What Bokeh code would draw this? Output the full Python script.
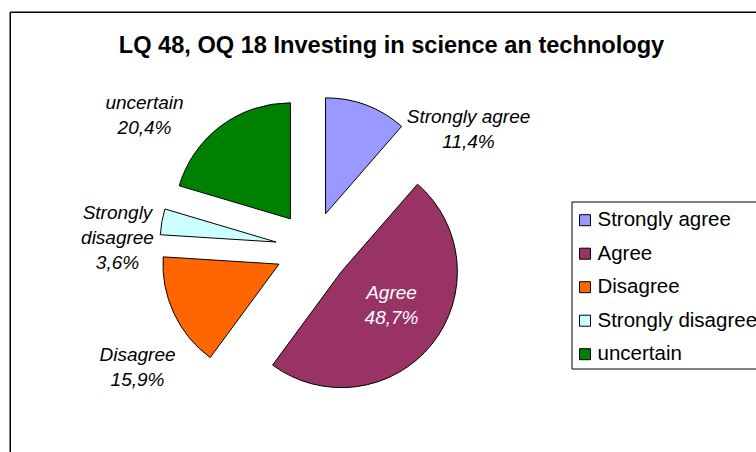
import math
from bokeh.plotting import figure
from bokeh.models import Range1d, ColumnDataSource
from bokeh.core.properties import value
from bokeh.embed import file_html
from bokeh.resources import INLINE

# ---- data ----
title = "LQ 48, OQ 18 Investing in science an technology"
categories = ["Strongly agree", "Agree", "Disagree", "Strongly disagree", "uncertain"]
shares = [11.4, 48.7, 15.9, 3.6, 20.4]
label_names = [["Strongly agree"], ["Agree"], ["Disagree"], ["Strongly", "disagree"], ["uncertain"]]

# ---- styles / layout ----
colors = ["#9999FF", "#993366", "#FF6600", "#CCFFFF", "#008000"]
label_colors = ["black", "white", "black", "black", "black"]
label_pos = [(468, 123), (391, 299), (137, 361), (117, 219), (144, 109)]  # screen px, first baseline
line_gap = 25
FONT = "Liberation Sans"
TS, LS, GS = 23.6, 19, 20.5  # title, label, legend font sizes (px)
SHIFT = 0.37  # baseline correction (fraction of font size)

W, H = 756, 452


def X(sx):
    return sx


def Y(sy):
    return H - sy


p = figure(width=W, height=H, x_range=Range1d(0, W), y_range=Range1d(0, H),
           output_backend="svg", toolbar_location=None, min_border=0,
           x_axis_location=None, y_axis_location=None)
p.grid.visible = False
p.outline_line_color = None
p.background_fill_color = "white"
p.border_fill_color = "white"

# chart border (extends past right / bottom)
p.segment(x0=[X(9.75), X(9.75)], y0=[Y(11.75), Y(11.75)],
          x1=[X(9.75), X(800)], y1=[Y(480), Y(11.75)],
          line_color="black", line_width=1.5)

# title
p.text(x=[X(391)], y=[Y(53 - SHIFT * TS)], text=[title], text_align="center", text_baseline="alphabetic",
       text_font=value(FONT), text_font_style="bold", text_font_size=f"{TS}px", text_color="black")

# pie wedges
total = sum(shares)
cx, cy = X(312), Y(248)
R, D = 116, 37
wx, wy, sa, ea = [], [], [], []
acc = 0.0
for v in shares:
    t1 = acc / total * 2 * math.pi
    t2 = (acc + v) / total * 2 * math.pi
    mid = (t1 + t2) / 2
    wx.append(cx + D * math.sin(mid))
    wy.append(cy + D * math.cos(mid))
    sa.append(math.pi / 2 - t2)
    ea.append(math.pi / 2 - t1)
    acc += v
src = ColumnDataSource(dict(x=wx, y=wy, sa=sa, ea=ea, color=colors, cat=categories))
p.wedge(x="x", y="y", radius=R, start_angle="sa", end_angle="ea", direction="anticlock",
        fill_color="color", line_color="black", line_width=1, source=src)

# data labels
tx, ty, tt, tc = [], [], [], []
for names, v, (lx, ly), col in zip(label_names, shares, label_pos, label_colors):
    lines = names + [f"{v:.1f}".replace(".", ",") + "%"]
    for i, s in enumerate(lines):
        tx.append(X(lx))
        ty.append(Y(ly + i * line_gap - SHIFT * LS))
        tt.append(s)
        tc.append(col)
p.text(x=tx, y=ty, text=tt, text_color=tc, text_align="center", text_baseline="alphabetic",
       text_font=value(FONT), text_font_style="italic", text_font_size=f"{LS}px")

# legend
p.quad(left=[X(571.5)], right=[X(820)], top=[Y(201.5)], bottom=[Y(368.5)],
       fill_color="white", line_color="black", line_width=1)
row = 33.5
lsx = [X(584.5)] * len(categories)
lsy = [Y(219.7 + i * row) for i in range(len(categories))]
p.rect(x=lsx, y=lsy, width=11, height=11, fill_color=colors, line_color="black", line_width=1)
p.text(x=[X(597)] * len(categories), y=[Y(226 + i * row - SHIFT * GS) for i in range(len(categories))],
       text=categories, text_align="left", text_baseline="alphabetic",
       text_font=value(FONT), text_font_size=f"{GS}px", text_color="black")

open("out.html", "w").write(file_html(p, INLINE))
